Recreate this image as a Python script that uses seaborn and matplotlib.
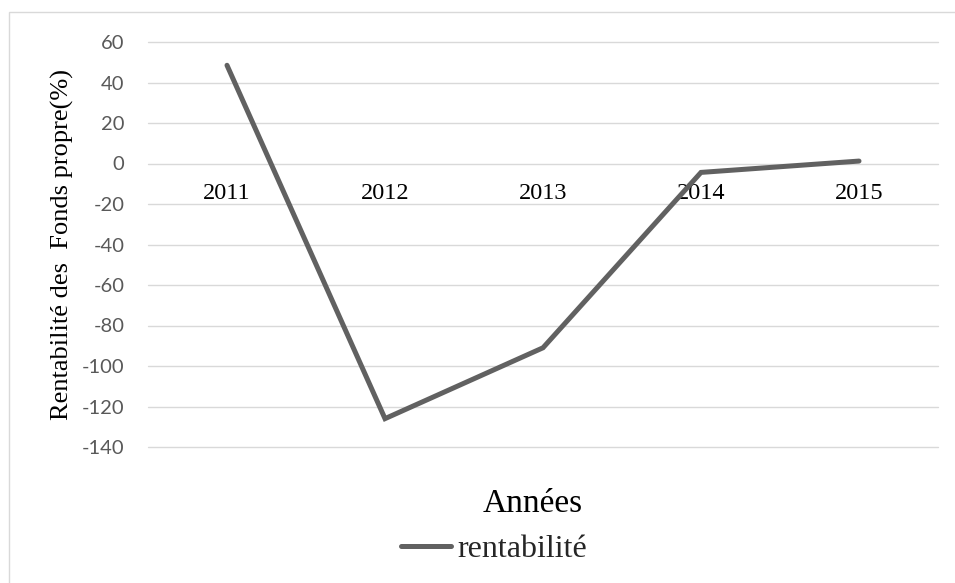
import matplotlib
matplotlib.use("Agg")
import matplotlib.pyplot as plt
import seaborn as sns
import pandas as pd
from matplotlib.patches import Rectangle

# Return on equity by year
annees = ["2011", "2012", "2013", "2014", "2015"]
rentabilite = [48.5, -126.0, -91.0, -4.4, 1.2]
y_ticks = [60, 40, 20, 0, -20, -40, -60, -80, -100, -120, -140]

df = pd.DataFrame({"Années": annees, "rentabilité": rentabilite})

sns.set_theme(style="white")
plt.rcParams["font.family"] = ["Liberation Serif", "DejaVu Serif"]
plt.rcParams["axes.unicode_minus"] = False

W, H, DPI = 955, 583, 100
fig = plt.figure(figsize=(W / DPI, H / DPI), dpi=DPI)
ax = fig.add_axes([148 / W, 1 - 447 / H, (938 - 148) / W, (447 - 42) / H])

# Chart frame (light grey, open to the right/bottom)
fig.patches.append(Rectangle((9 / W, -0.1), 1.2, (1 - 12 / H) + 0.1,
                             transform=fig.transFigure, fill=False,
                             edgecolor="#d9d9d9", linewidth=1.0))

line_color = "#616161"
sns.lineplot(data=df, x="Années", y="rentabilité", ax=ax, color=line_color,
             linewidth=3.6, label="rentabilité", sort=False)
for ln in ax.get_lines():
    ln.set_solid_capstyle("round")
    ln.set_solid_joinstyle("miter")

ax.set_xlim(-0.5, len(annees) - 0.5)
ax.set_ylim(-140, 60)
ax.set_yticks(y_ticks)
ax.yaxis.grid(True, color="#d9d9d9", linewidth=1.0)
ax.xaxis.grid(False)
for gl in ax.get_ygridlines():
    gl.set_clip_on(False)
for s in ax.spines.values():
    s.set_visible(False)

# Category axis crosses at zero
ax.spines["bottom"].set_position(("data", 0))
ax.tick_params(axis="x", length=0, pad=14, labelsize=17.5, labelcolor="black")
ax.tick_params(axis="y", length=0, pad=17, labelsize=14.5, labelcolor="#595959")
for t in ax.get_yticklabels():
    t.set_fontfamily(["Lato", "DejaVu Sans"])

ax.set_xlabel("Années", fontsize=24, color="black")
ax.xaxis.set_label_coords((533 - 148) / (938 - 148), -(504 - 447) / (447 - 42), transform=ax.transAxes)
ax.xaxis.label.set_verticalalignment("center")
ax.set_ylabel("Rentabilité des  Fonds propre(%)", fontsize=19, color="black")
ax.yaxis.set_label_coords(-(148 - 62) / (938 - 148), 0.5, transform=ax.transAxes)
ax.yaxis.label.set_verticalalignment("center")

leg = ax.legend(loc="center", bbox_to_anchor=(494 / W, 1 - 549 / H),
                bbox_transform=fig.transFigure, frameon=False, fontsize=23,
                handlelength=1.55, handletextpad=0.2, borderpad=0)
for h in leg.get_lines():
    h.set_solid_capstyle("round")
    h.set_linewidth(3.6)

fig.savefig("out.png", dpi=DPI, facecolor="white")
